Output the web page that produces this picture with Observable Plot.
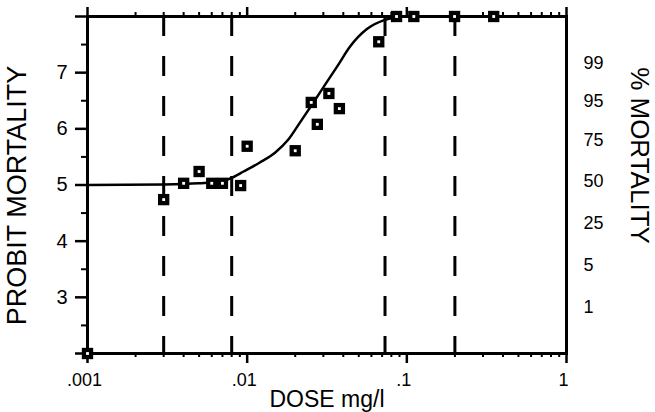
<!DOCTYPE html>
<html>
<head>
<meta charset="utf-8">
<script src="https://cdn.jsdelivr.net/npm/d3@7"></script>
<script src="https://cdn.jsdelivr.net/npm/@observablehq/plot@0.6"></script>
<style>
  html, body { margin: 0; padding: 0; background: white; }
</style>
</head>
<body>
<div id="chart"></div>
<script>
// Observed data points (dose mg/l, probit mortality)
const pointDose = [0.001, 0.003, 0.004, 0.005, 0.006, 0.007, 0.0091, 0.01, 0.02, 0.0252, 0.0275, 0.0325, 0.0378, 0.0667, 0.0862, 0.1106, 0.199, 0.35];
const pointProbit = [2.0, 4.74, 5.03, 5.24, 5.03, 5.03, 4.99, 5.69, 5.61, 6.47, 6.08, 6.63, 6.36, 7.55, 8.0, 8.0, 8.0, 8.0];

// Fitted curve (dose, probit)
const curveDose = [0.001, 0.003, 0.005, 0.0068, 0.0079, 0.0095, 0.012, 0.015, 0.018, 0.0215, 0.026, 0.031, 0.037, 0.044, 0.0565, 0.0715, 0.085, 0.1, 1];
const curveProbit = [5.0, 5.01, 5.03, 5.06, 5.12, 5.24, 5.40, 5.58, 5.80, 6.12, 6.47, 6.80, 7.13, 7.46, 7.78, 7.93, 7.98, 8.0, 8.0];

// Dashed reference doses
const dashedDoses = [0.003, 0.008, 0.073, 0.2];

// Axis ticks and labels
const xTickValues = [0.001, 0.01, 0.1, 1];
const xTickLabels = [".001", ".01", ".1", "1"];
const yIntTicks = [2, 3, 4, 5, 6, 7, 8];
const yLabelled = [3, 4, 5, 6, 7];
const yHalfTicks = [2.5, 3.5, 4.5, 5.5, 6.5, 7.5];
const rightLabels = ["99", "95", "75", "50", "25", "5", "1"];
const rightProbits = [7.17, 6.49, 5.79, 5.06, 4.32, 3.58, 2.83];

const minorX = [];
for (const dec of [0.001, 0.01, 0.1]) for (let m = 2; m <= 9; m++) minorX.push(dec * m);

const points = pointDose.map((d, i) => ({dose: d, probit: pointProbit[i]}));
const curve = curveDose.map((d, i) => ({dose: d, probit: curveProbit[i]}));

const font = "'Liberation Sans', Arial, Helvetica, sans-serif";

const chart = Plot.plot({
  width: 655,
  height: 412,
  marginLeft: 87,
  marginRight: 89,
  marginTop: 16,
  marginBottom: 59,
  style: {fontFamily: font, background: "white", color: "black", overflow: "visible"},
  x: {type: "log", domain: [0.001, 1]},
  y: {domain: [2, 8]},
  marks: [
    Plot.ruleX(dashedDoses, {x: d => d, y1: 8, y2: 2, stroke: "black", strokeWidth: 3, strokeDasharray: "20,20"}),
    Plot.axisX(minorX, {anchor: "bottom", tickSize: 4, strokeWidth: 2, tickFormat: () => "", label: null}),
    Plot.axisX(xTickValues, {anchor: "bottom", tickSize: 10, strokeWidth: 2.5, tickFormat: () => "", label: null}),
    Plot.axisX(minorX, {anchor: "top", tickSize: 5, strokeWidth: 2, tickFormat: () => "", label: null}),
    Plot.axisX(xTickValues, {anchor: "top", tickSize: 10, strokeWidth: 2.5, tickFormat: () => "", label: null}),
    Plot.axisY(yHalfTicks, {anchor: "left", tickSize: 6, strokeWidth: 2, tickFormat: () => "", label: null}),
    Plot.axisY(yIntTicks, {anchor: "left", tickSize: 12, strokeWidth: 2.5, tickPadding: 8, fontSize: 20,
      tickFormat: d => yLabelled.includes(d) ? String(d) : "", label: null}),
    Plot.text(xTickValues, {x: d => d, text: (d, i) => xTickLabels[i], frameAnchor: "bottom", dy: 27, dx: -3,
      fontSize: 18, textAnchor: "middle", lineAnchor: "middle"}),
    Plot.text(rightLabels, {x: () => 1, y: (d, i) => rightProbits[i], text: d => d, dx: 17,
      textAnchor: "start", lineAnchor: "middle", fontSize: 18}),
    Plot.frame({stroke: "black", strokeWidth: 3}),
    Plot.line(curve, {x: "dose", y: "probit", curve: "monotone-x", stroke: "black", strokeWidth: 2.5}),
    Plot.dot(points, {x: "dose", y: "probit", symbol: "square", r: 6.4, fill: "black", stroke: null}),
    Plot.dot(points, {x: "dose", y: "probit", symbol: "square", r: 1.6, fill: "white", stroke: null}),
    Plot.text(["PROBIT MORTALITY"], {frameAnchor: "left", dx: -70, dy: 10.5, rotate: -90, fontSize: 27,
      textAnchor: "middle", lineAnchor: "middle"}),
    Plot.text(["% MORTALITY"], {frameAnchor: "right", dx: 73, dy: -29.5, rotate: 90, fontSize: 26,
      textAnchor: "middle", lineAnchor: "middle"}),
    Plot.text(["DOSE mg/l"], {frameAnchor: "bottom", dy: 46.5, fontSize: 23,
      textAnchor: "middle", lineAnchor: "middle"})
  ]
});
document.getElementById("chart").appendChild(chart);
</script>
</body>
</html>
